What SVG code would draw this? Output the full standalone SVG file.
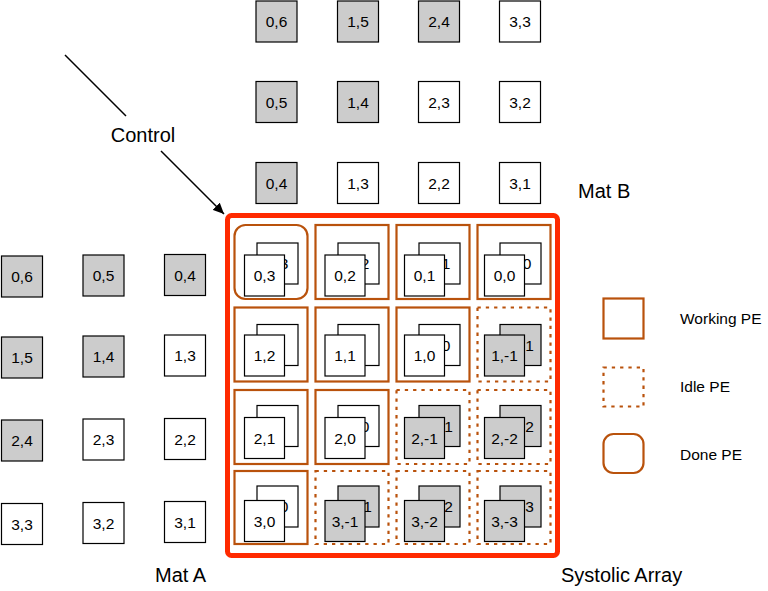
<svg xmlns="http://www.w3.org/2000/svg" width="768" height="591" viewBox="0 0 768 591">
<style>
.card{fill:#fff;stroke:#000;stroke-width:1.2}
.g{fill:#cccccc}
.t{font-family:"Liberation Sans",Arial,sans-serif;font-size:15.5px;text-anchor:middle;fill:#000}
.bt{font-family:"Liberation Sans",Arial,sans-serif;font-size:15.5px;text-anchor:end;fill:#000}
.big{font-family:"Liberation Sans",Arial,sans-serif;font-size:20px;fill:#000}
.leg{font-family:"Liberation Sans",Arial,sans-serif;font-size:15.5px;fill:#000}
.work{fill:#fff;stroke:#b9520c;stroke-width:2.2}
.idle{fill:#fff;stroke:#b9520c;stroke-width:2.2;stroke-dasharray:3.3 5}
.done{fill:#fff;stroke:#b9520c;stroke-width:2.2}
.arr{fill:none;stroke:#ff2a00;stroke-width:5}
.conn{fill:none;stroke:#000;stroke-width:1.5}
</style>
<defs>
<marker id="ah" markerUnits="userSpaceOnUse" markerWidth="12" markerHeight="10" refX="11" refY="5" orient="auto">
<path d="M0,0 L11,5 L0,10 Z" fill="#000"/>
</marker>
</defs>
<rect width="768" height="591" fill="#fff"/>

<!-- Mat B -->
<g id="matB">
<g id="b-0-6"><rect class="card g" x="256" y="1" width="41" height="41"/><text class="t" x="276.5" y="27">0,6</text></g>
<g id="b-1-5"><rect class="card g" x="337.5" y="1" width="41" height="41"/><text class="t" x="358" y="27">1,5</text></g>
<g id="b-2-4"><rect class="card g" x="418.5" y="1" width="41" height="41"/><text class="t" x="439" y="27">2,4</text></g>
<g id="b-3-3"><rect class="card" x="499.5" y="1" width="41" height="41"/><text class="t" x="520" y="27">3,3</text></g>
<g id="b-0-5"><rect class="card g" x="256" y="81.5" width="41" height="41"/><text class="t" x="276.5" y="107.5">0,5</text></g>
<g id="b-1-4"><rect class="card g" x="337.5" y="81.5" width="41" height="41"/><text class="t" x="358" y="107.5">1,4</text></g>
<g id="b-2-3"><rect class="card" x="418.5" y="81.5" width="41" height="41"/><text class="t" x="439" y="107.5">2,3</text></g>
<g id="b-3-2"><rect class="card" x="499.5" y="81.5" width="41" height="41"/><text class="t" x="520" y="107.5">3,2</text></g>
<g id="b-0-4"><rect class="card g" x="256" y="162.5" width="41" height="41"/><text class="t" x="276.5" y="188.5">0,4</text></g>
<g id="b-1-3"><rect class="card" x="337.5" y="162.5" width="41" height="41"/><text class="t" x="358" y="188.5">1,3</text></g>
<g id="b-2-2"><rect class="card" x="418.5" y="162.5" width="41" height="41"/><text class="t" x="439" y="188.5">2,2</text></g>
<g id="b-3-1"><rect class="card" x="499.5" y="162.5" width="41" height="41"/><text class="t" x="520" y="188.5">3,1</text></g>
</g>

<!-- Mat A -->
<g id="matA">
<g id="a-0-6"><rect class="card g" x="1.5" y="256" width="41" height="41"/><text class="t" x="22" y="282">0,6</text></g>
<g id="a-0-5"><rect class="card g" x="83" y="255" width="41" height="41"/><text class="t" x="103.5" y="281">0,5</text></g>
<g id="a-0-4"><rect class="card g" x="164.5" y="254.5" width="41" height="41"/><text class="t" x="185" y="280.5">0,4</text></g>
<g id="a-1-5"><rect class="card g" x="1.5" y="337" width="41" height="41"/><text class="t" x="22" y="363">1,5</text></g>
<g id="a-1-4"><rect class="card g" x="83" y="336" width="41" height="41"/><text class="t" x="103.5" y="362">1,4</text></g>
<g id="a-1-3"><rect class="card" x="164.5" y="335" width="41" height="41"/><text class="t" x="185" y="361">1,3</text></g>
<g id="a-2-4"><rect class="card g" x="1.5" y="420" width="41" height="41"/><text class="t" x="22" y="446">2,4</text></g>
<g id="a-2-3"><rect class="card" x="83" y="419" width="41" height="41"/><text class="t" x="103.5" y="445">2,3</text></g>
<g id="a-2-2"><rect class="card" x="164.5" y="418.5" width="41" height="41"/><text class="t" x="185" y="444.5">2,2</text></g>
<g id="a-3-3"><rect class="card" x="1.5" y="503.5" width="41" height="41"/><text class="t" x="22" y="529.5">3,3</text></g>
<g id="a-3-2"><rect class="card" x="83" y="502.5" width="41" height="41"/><text class="t" x="103.5" y="528.5">3,2</text></g>
<g id="a-3-1"><rect class="card" x="164.5" y="501.5" width="41" height="41"/><text class="t" x="185" y="527.5">3,1</text></g>
</g>

<!-- Systolic array PEs -->
<g id="pe-0-0"><rect class="done" x="234.5" y="225" width="73" height="74" rx="11"/>
<rect class="card" x="257" y="243" width="41" height="41"/><text class="bt" x="288.3" y="269">3</text>
<rect class="card" x="244.5" y="255" width="40" height="41"/><text class="t" x="264.5" y="281">0,3</text></g>
<g id="pe-0-1"><rect class="work" x="315.5" y="225" width="73" height="74"/>
<rect class="card" x="338" y="243" width="41" height="41"/><text class="bt" x="369.3" y="269">2</text>
<rect class="card" x="325" y="255" width="40" height="41"/><text class="t" x="345" y="281">0,2</text></g>
<g id="pe-0-2"><rect class="work" x="396.5" y="225" width="73" height="74"/>
<rect class="card" x="419" y="243" width="41" height="41"/><text class="bt" x="450.3" y="269">1</text>
<rect class="card" x="404.5" y="255" width="40" height="41"/><text class="t" x="424.5" y="281">0,1</text></g>
<g id="pe-0-3"><rect class="work" x="477.5" y="225" width="73" height="74"/>
<rect class="card" x="500" y="243" width="41" height="41"/><text class="bt" x="531.3" y="269">0</text>
<rect class="card" x="484.5" y="255" width="40" height="41"/><text class="t" x="504.5" y="281">0,0</text></g>

<g id="pe-1-0"><rect class="work" x="234.5" y="307.5" width="73" height="74"/>
<rect class="card" x="257" y="324.5" width="41" height="41"/>
<rect class="card" x="244.5" y="335" width="40" height="41"/><text class="t" x="264.5" y="361">1,2</text></g>
<g id="pe-1-1"><rect class="work" x="315.5" y="307.5" width="73" height="74"/>
<rect class="card" x="338" y="324.5" width="41" height="41"/>
<rect class="card" x="325" y="335" width="40" height="41"/><text class="t" x="345" y="361">1,1</text></g>
<g id="pe-1-2"><rect class="work" x="396.5" y="307.5" width="73" height="74"/>
<rect class="card" x="419" y="324.5" width="41" height="41"/><text class="bt" x="450.3" y="350.5">0</text>
<rect class="card" x="404.5" y="335" width="40" height="41"/><text class="t" x="424.5" y="361">1,0</text></g>
<g id="pe-1-3"><rect class="idle" x="477.5" y="307.5" width="73" height="74"/>
<rect class="card g" x="500" y="324.5" width="41" height="41"/><text class="bt" x="533.9" y="350.5">1</text>
<rect class="card g" x="484.5" y="335" width="40" height="41"/><text class="t" x="504.5" y="361">1,-1</text></g>

<g id="pe-2-0"><rect class="work" x="234.5" y="390" width="73" height="74"/>
<rect class="card" x="257" y="405.5" width="41" height="41"/>
<rect class="card" x="244.5" y="417.5" width="40" height="41"/><text class="t" x="264.5" y="443.5">2,1</text></g>
<g id="pe-2-1"><rect class="work" x="315.5" y="390" width="73" height="74"/>
<rect class="card" x="338" y="405.5" width="41" height="41"/><text class="bt" x="369.3" y="431.5">0</text>
<rect class="card" x="325" y="417.5" width="40" height="41"/><text class="t" x="345" y="443.5">2,0</text></g>
<g id="pe-2-2"><rect class="idle" x="396.5" y="390" width="73" height="74"/>
<rect class="card g" x="419" y="405.5" width="41" height="41"/><text class="bt" x="452.9" y="431.5">1</text>
<rect class="card g" x="404.5" y="417.5" width="40" height="41"/><text class="t" x="424.5" y="443.5">2,-1</text></g>
<g id="pe-2-3"><rect class="idle" x="477.5" y="390" width="73" height="74"/>
<rect class="card g" x="500" y="405.5" width="41" height="41"/><text class="bt" x="533.9" y="431.5">2</text>
<rect class="card g" x="484.5" y="417.5" width="40" height="41"/><text class="t" x="504.5" y="443.5">2,-2</text></g>

<g id="pe-3-0"><rect class="work" x="234.5" y="471" width="73" height="73"/>
<rect class="card" x="257" y="486" width="41" height="41"/><text class="bt" x="288.3" y="512">0</text>
<rect class="card" x="244.5" y="500.5" width="40" height="41"/><text class="t" x="264.5" y="526.5">3,0</text></g>
<g id="pe-3-1"><rect class="idle" x="315.5" y="471" width="73" height="73"/>
<rect class="card g" x="338" y="486" width="41" height="41"/><text class="bt" x="371.9" y="512">1</text>
<rect class="card g" x="325" y="500.5" width="40" height="41"/><text class="t" x="345" y="526.5">3,-1</text></g>
<g id="pe-3-2"><rect class="idle" x="396.5" y="471" width="73" height="73"/>
<rect class="card g" x="419" y="486" width="41" height="41"/><text class="bt" x="452.9" y="512">2</text>
<rect class="card g" x="404.5" y="500.5" width="40" height="41"/><text class="t" x="424.5" y="526.5">3,-2</text></g>
<g id="pe-3-3"><rect class="idle" x="477.5" y="471" width="73" height="73"/>
<rect class="card g" x="500" y="486" width="41" height="41"/><text class="bt" x="533.9" y="512">3</text>
<rect class="card g" x="484.5" y="500.5" width="40" height="41"/><text class="t" x="504.5" y="526.5">3,-3</text></g>

<g id="systolic-array"><rect class="arr" x="227.5" y="215.5" width="330" height="340" rx="4"/></g>

<!-- Legend -->
<g id="legend-working"><rect class="work" x="603.5" y="298.5" width="40" height="40"/><text class="leg" x="680" y="324">Working PE</text></g>
<g id="legend-idle"><rect class="idle" x="603.5" y="367.5" width="40" height="39"/><text class="leg" x="680" y="392">Idle PE</text></g>
<g id="legend-done"><rect class="done" x="603.5" y="434" width="40" height="39" rx="10"/><text class="leg" x="680" y="460">Done PE</text></g>

<!-- Labels -->
<g id="labels">
<text class="big" x="578" y="198">Mat B</text>
<text class="big" x="155" y="581.5">Mat A</text>
<text class="big" x="561" y="581.5">Systolic Array</text>
</g>

<!-- Connectors -->
<g id="connectors">
<path class="conn" d="M65,55 L126,116 M161,151 L224,214" marker-end="url(#ah)"/>
<text class="big" x="143" y="141.5" text-anchor="middle">Control</text>
</g>
</svg>
